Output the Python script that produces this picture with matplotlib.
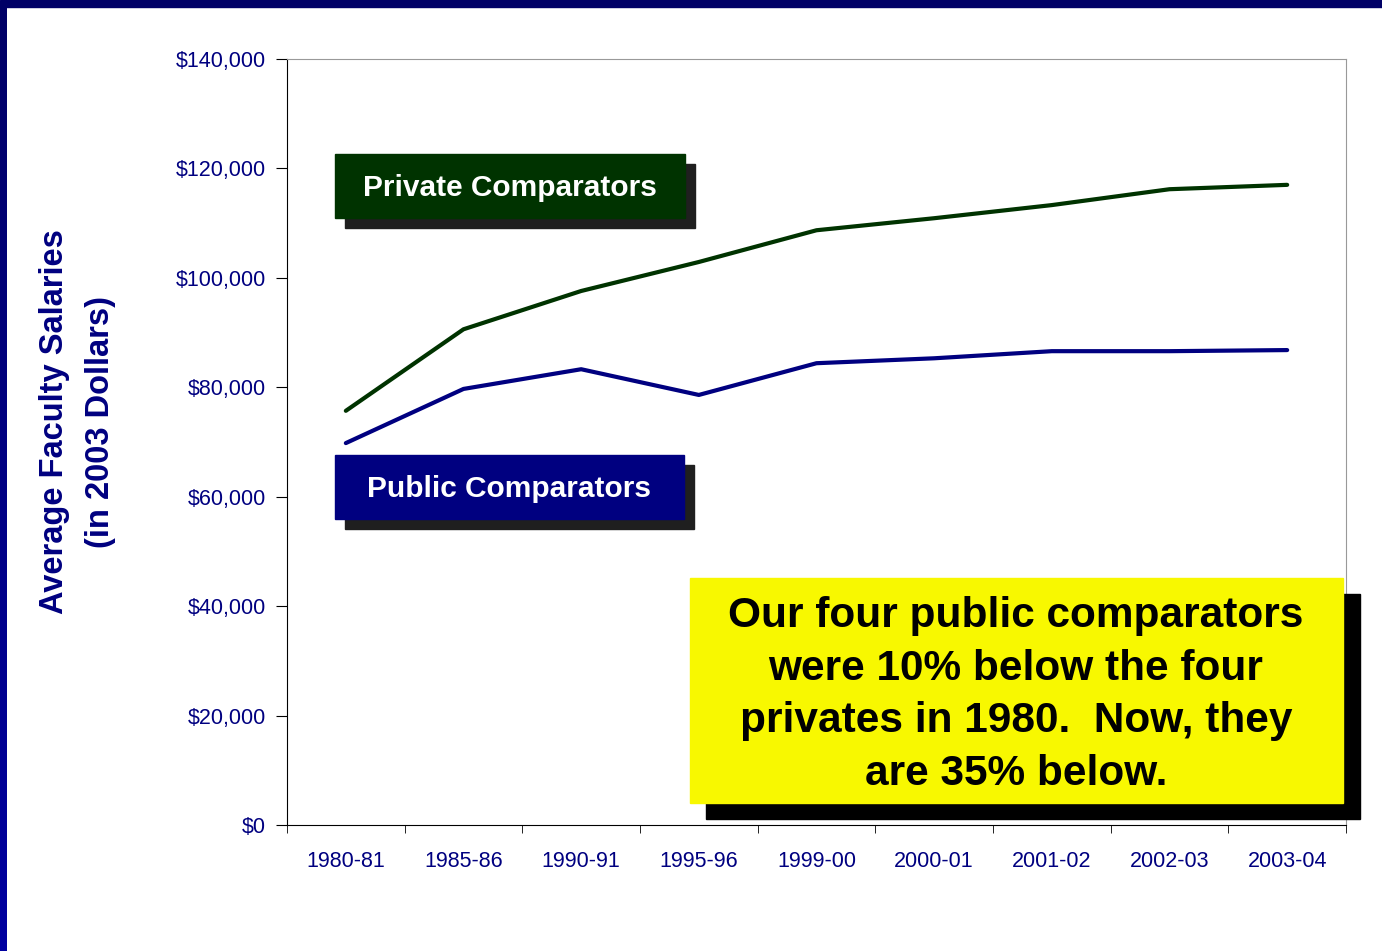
import numpy as np
import matplotlib
matplotlib.use("Agg")
import matplotlib.pyplot as plt
from matplotlib.patches import Rectangle
from matplotlib.ticker import FuncFormatter, MultipleLocator

# --- data (average faculty salaries, 2003 dollars) ---
years = ["1980-81", "1985-86", "1990-91", "1995-96", "1999-00",
         "2000-01", "2001-02", "2002-03", "2003-04"]
private = [75700, 90600, 97600, 102900, 108700, 110900, 113300, 116200, 117000]
public = [69800, 79700, 83300, 78600, 84400, 85300, 86600, 86600, 86800]

NAVY = "#000080"
GREEN = "#003300"
FONT = ["Liberation Sans", "DejaVu Sans"]
W, H = 1382, 951

fig = plt.figure(figsize=(W / 100, H / 100), dpi=100)
fig.patch.set_facecolor("white")

def fx(px):
    return px / W

def fy(py):
    return 1 - py / H

# --- border stripes (top and left) ---
fig.patches.append(Rectangle((0, fy(7)), 1, 7 / H, transform=fig.transFigure,
                             color="#000066", zorder=0))
grad = fig.add_axes([0, 0, fx(7), fy(7)])
grad.imshow(np.linspace(0, 1, 100).reshape(-1, 1), aspect="auto",
            cmap=matplotlib.colors.LinearSegmentedColormap.from_list("b", ["#000066", "#0000a0"]))
grad.axis("off")

ax = fig.add_axes([fx(287), fy(825), fx(1346) - fx(287), fy(59) - fy(825)])
x = np.arange(len(years))
ax.plot(x, private, color=GREEN, lw=3, solid_capstyle="round", zorder=3)
ax.plot(x, public, color=NAVY, lw=3, solid_capstyle="round", zorder=3)

ax.set_xlim(-0.5, len(years) - 0.5)
ax.set_ylim(0, 140000)
ax.yaxis.set_major_locator(MultipleLocator(20000))
ax.yaxis.set_major_formatter(FuncFormatter(lambda v, p: f"${v:,.0f}"))
ax.set_xticks(x)
ax.set_xticklabels(years)
ax.set_xticks(np.arange(-0.5, len(years)), minor=True)
ax.tick_params(axis="x", which="major", length=0, pad=18.5, labelsize=15.5, labelcolor=NAVY)
ax.tick_params(axis="x", which="minor", length=6, direction="out", color="black")
ax.tick_params(axis="y", length=8, direction="out", pad=7, labelsize=15.5, labelcolor=NAVY)
for s in ["top", "right"]:
    ax.spines[s].set_color("#999999")
for s in ["left", "bottom"]:
    ax.spines[s].set_color("black")
for lab in ax.get_xticklabels() + ax.get_yticklabels():
    lab.set_family(FONT)

# y label (two lines)
fig.text(fx(55), fy(422), "Average Faculty Salaries", rotation=90, ha="center", va="center",
         fontsize=23.5, fontweight="bold", color=NAVY, family=FONT)
fig.text(fx(100), fy(422), "(in 2003 Dollars)", rotation=90, ha="center", va="center",
         fontsize=23.5, fontweight="bold", color=NAVY, family=FONT)

def label_box(x0, y0, x1, y1, color, text):
    fig.patches.append(Rectangle((fx(x0 + 10), fy(y1 + 10)), fx(x1 - x0), (y1 - y0) / H,
                                 transform=fig.transFigure, color="#1f1f1f", zorder=5))
    fig.patches.append(Rectangle((fx(x0), fy(y1)), fx(x1 - x0), (y1 - y0) / H,
                                 transform=fig.transFigure, color=color, zorder=6))
    fig.text(fx((x0 + x1) / 2), fy((y0 + y1) / 2 + 2), text, ha="center", va="center",
             fontsize=21.5, fontweight="bold", color="white", zorder=7, family=FONT)

label_box(335, 154, 685, 218, GREEN, "Private Comparators")
label_box(335, 455, 684, 519, NAVY, "Public Comparators")

# yellow callout
fig.patches.append(Rectangle((fx(706), fy(819)), fx(1360 - 706), (819 - 594) / H,
                             transform=fig.transFigure, color="black", zorder=5))
fig.patches.append(Rectangle((fx(690), fy(803)), fx(1343 - 690), (803 - 578) / H,
                             transform=fig.transFigure, color="#f8f800", zorder=6))
fig.text(fx(1016), fy(695),
         "Our four public comparators\nwere 10% below the four\nprivates in 1980.  Now, they\nare 35% below.",
         ha="center", va="center", fontsize=30.5, fontweight="bold", color="black",
         linespacing=1.40, zorder=7, family=FONT)

fig.savefig("out.png", dpi=100)
